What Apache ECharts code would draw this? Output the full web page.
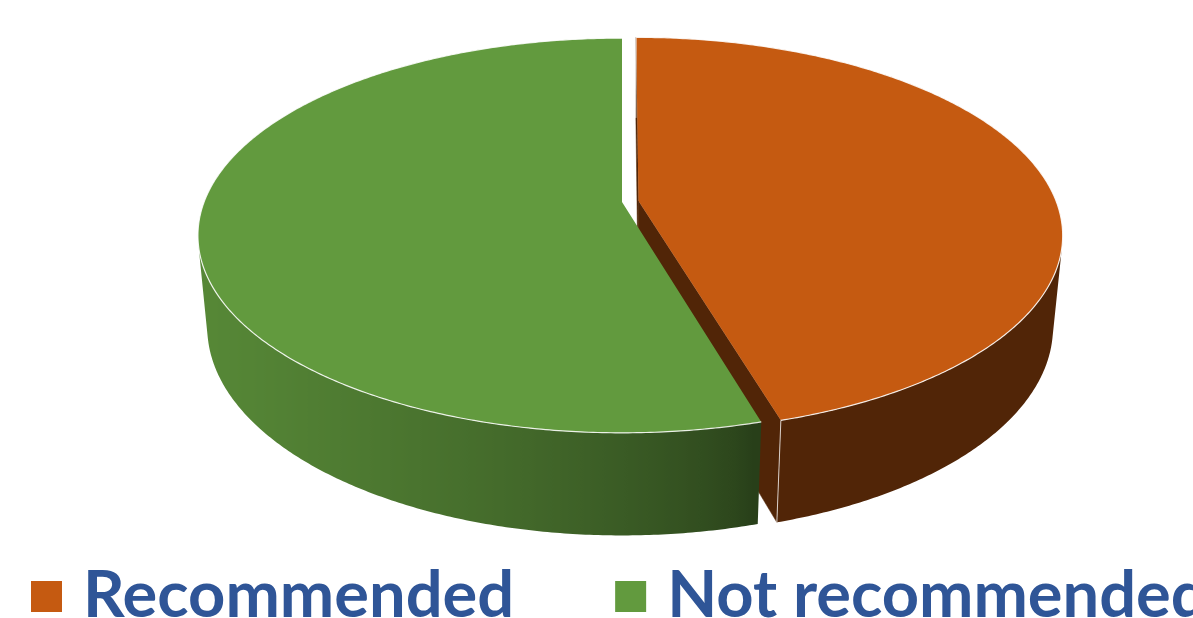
<!DOCTYPE html>
<html><head><meta charset="utf-8">
<script src="https://cdn.jsdelivr.net/npm/echarts@6/dist/echarts.min.js"></script>
<style>html,body{margin:0;padding:0;background:#fff}#c{width:1193px;height:618px}</style>
</head><body><div id="c"></div>
<script>
// ---- data ----
const categories = ['Recommended', 'Not recommended'];
const values = [45.5, 54.5];
const colors = ['#c55a11', '#629a3e'];
const explode = [0.04, 0];

// ---- 3D view (styling/layout) ----
const VIEW = {cx: 622, cy: 202, F: 2189, D: 5.238, alpha: 27.3 * Math.PI / 180, h: 0.249};
const sA = Math.sin(VIEW.alpha), cA = Math.cos(VIEW.alpha);
function proj(x, y, z) {
  const up = y * cA + z * sA;
  const depth = VIEW.D + z * cA - y * sA;
  return [VIEW.cx + VIEW.F * x / depth, VIEW.cy - VIEW.F * up / depth];
}
const total = values.reduce((a, b) => a + b, 0);
function sliceAngles(i) {
  let s = 0; for (let k = 0; k < i; k++) s += values[k];
  return [s / total * 2 * Math.PI, (s + values[i]) / total * 2 * Math.PI];
}
function hexRgb(h) { h = h.replace('#', ''); return [0, 2, 4].map(k => parseInt(h.substr(k, 2), 16)); }
function shadeCol(hex, f) { const c = hexRgb(hex); return 'rgb(' + c.map(v => Math.max(0, Math.min(255, Math.round(v * f)))).join(',') + ')'; }
function wallShade(th) {
  const v = Math.max(0, -Math.sin(th + 15 * Math.PI / 180));
  return 0.41 + 0.47 * Math.pow(v, 0.7);
}
// depth ranking: farther slices drawn first
const ranks = (() => {
  const idx = values.map((v, i) => i);
  idx.sort((a, b) => { const ma = sliceAngles(a), mb = sliceAngles(b);
    return Math.cos((mb[0] + mb[1]) / 2) - Math.cos((ma[0] + ma[1]) / 2); });
  const r = []; idx.forEach((i, k) => r[i] = k); return r;
})();

function renderSlice(i) {
  return function (params, api) {
    const base = colors[i];
    const [a0, a1] = sliceAngles(i);
    const mid = (a0 + a1) / 2;
    const ox = explode[i] * Math.sin(mid), oz = explode[i] * Math.cos(mid);
    const h = VIEW.h;
    const P = (r, th, y) => proj(ox + r * Math.sin(th), y, oz + r * Math.cos(th));
    const C = y => proj(ox, y, oz);
    const zb = ranks[i] * 10;
    const children = [];
    const cam = [0, VIEW.D * sA, -VIEW.D * cA];
    // end faces
    const faceVis = (th, sign) => {
      const n = [sign * Math.cos(th), 0, -sign * Math.sin(th)];
      const p = [ox + 0.5 * Math.sin(th), -h / 2, oz + 0.5 * Math.cos(th)];
      return n[0] * (cam[0] - p[0]) + n[2] * (cam[2] - p[2]) > 0;
    };
    [[a0, -1], [a1, 1]].forEach(([th, sg]) => {
      if (values[i] / total >= 0.999) return;
      if (!faceVis(th, sg)) return;
      children.push({type: 'polygon', z2: zb + 1, shape: {points: [C(0), P(1, th, 0), P(1, th, -h), C(-h)]},
        style: {fill: shadeCol(base, 0.41), stroke: shadeCol(base, 0.41), lineWidth: 0.5}});
      children.push({type: 'line', z2: zb + 4, shape: {x1: P(1, th, 0)[0], y1: P(1, th, 0)[1], x2: P(1, th, -h)[0], y2: P(1, th, -h)[1]},
        style: {stroke: 'rgba(255,255,255,0.75)', lineWidth: 1}});
    });
    // outer wall
    const vis = th => (-ox * Math.sin(th) - oz * Math.cos(th) - VIEW.D * cA * Math.cos(th) - 1) > 0;
    const N = Math.max(16, Math.ceil((a1 - a0) / (Math.PI / 360)));
    const ths = []; for (let k = 0; k <= N; k++) ths.push(a0 + (a1 - a0) * k / N);
    const refine = (tv, ti) => { for (let j = 0; j < 30; j++) { const m = (tv + ti) / 2; if (vis(m)) tv = m; else ti = m; } return tv; };
    const runs = []; let cur = null;
    for (let k = 0; k <= N; k++) {
      const v = vis(ths[k]);
      if (v && !cur) { cur = {pts: []}; if (k > 0) cur.pts.push(refine(ths[k], ths[k - 1])); cur.pts.push(ths[k]); }
      else if (v && cur) cur.pts.push(ths[k]);
      else if (!v && cur) { cur.pts.push(refine(ths[k - 1], ths[k])); runs.push(cur.pts); cur = null; }
    }
    if (cur) runs.push(cur.pts);
    runs.forEach(pts => {
      pts = pts.filter((t, j) => j === 0 || Math.abs(t - pts[j - 1]) > 1e-9);
      const top = pts.map(t => P(1, t, 0));
      const bot = pts.map(t => P(1, t, -h)).reverse();
      const xs = top.map(p => p[0]);
      const minX = Math.min(...xs), maxX = Math.max(...xs);
      let stops = pts.map((t, j) => ({x: top[j][0], c: shadeCol(base, wallShade(t))}));
      stops.sort((a, b) => a.x - b.x);
      const span = Math.max(1, maxX - minX);
      const colorStops = stops.map(s => ({offset: Math.min(1, Math.max(0, (s.x - minX) / span)), color: s.c}));
      children.push({type: 'polygon', z2: zb + 2, shape: {points: top.concat(bot)},
        style: {fill: {type: 'linear', x: minX, y: 0, x2: maxX, y2: 0, global: true, colorStops: colorStops}}});
    });
    // top face
    const arc = ths.map(t => P(1, t, 0));
    children.push({type: 'polygon', z2: zb + 3, shape: {points: [C(0)].concat(arc)}, style: {fill: base}});
    children.push({type: 'polyline', z2: zb + 4, shape: {points: arc}, style: {stroke: 'rgba(255,255,255,0.85)', lineWidth: 1.2, fill: null}});
    return {type: 'group', children: children};
  };
}

const chart = echarts.init(document.getElementById('c'), null, {renderer: 'canvas'});
chart.setOption({
  animation: false,
  backgroundColor: '#ffffff',
  legend: {
    left: 26, top: 559, width: 2400, orient: 'horizontal',
    itemWidth: 31, itemHeight: 31, itemGap: 101, icon: 'rect',
    selectedMode: false,
    textStyle: {fontSize: 65, fontWeight: 'bold', color: '#2f5597', fontFamily: 'Lato', padding: [0, 0, 0, 16]},
    data: categories
  },
  series: categories.map((name, i) => ({
    type: 'custom', name: name, coordinateSystem: 'none',
    itemStyle: {color: colors[i]},
    data: [{value: values[i], name: name}],
    renderItem: renderSlice(i)
  }))
});
</script></body></html>
